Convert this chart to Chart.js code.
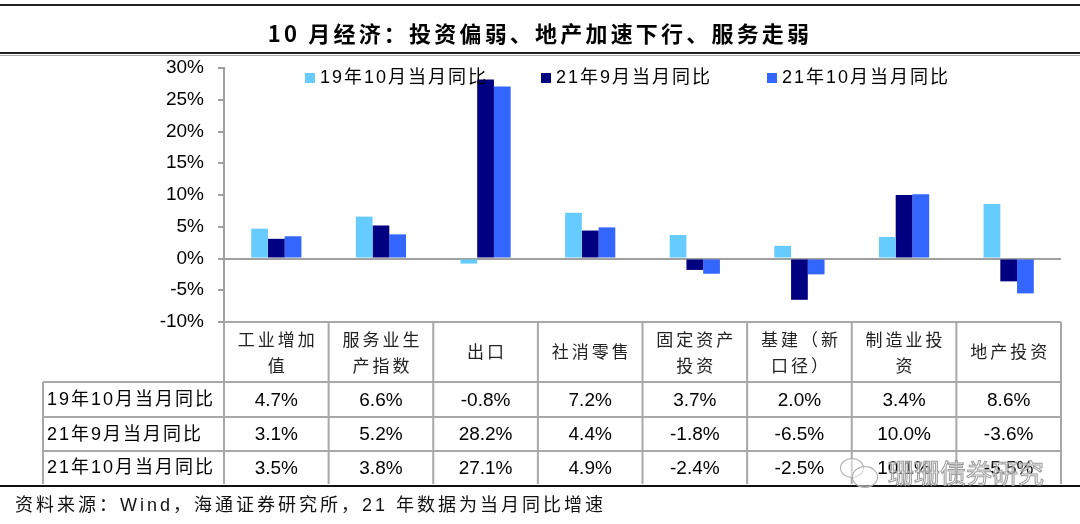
<!DOCTYPE html>
<html>
<head>
<meta charset="utf-8">
<script src="https://cdn.jsdelivr.net/npm/chart.js@4"></script>
<style>
  html,body{margin:0;padding:0;background:#fff;}
  #wrap{position:relative;width:1080px;height:524px;overflow:hidden;background:#fff;}
  #c{position:absolute;left:0;top:0;}
  .rule{position:absolute;left:0;width:1080px;}
  #title{position:absolute;left:0;top:15px;width:1080px;text-align:center;font:bold 22px "Noto Sans CJK SC","Liberation Sans",sans-serif;letter-spacing:3.2px;color:#000;line-height:34px;}
  #foot{position:absolute;left:15px;top:492px;font:18px "Liberation Sans","Noto Sans CJK SC",sans-serif;letter-spacing:3px;color:#111;line-height:26px;white-space:nowrap;}
  #wm{position:absolute;left:888px;top:455px;font:26px "Noto Sans CJK SC",sans-serif;color:rgba(255,255,255,0.55);-webkit-text-stroke:1px #9a9a9a;white-space:nowrap;line-height:34px;}
  .bub{position:absolute;border:1.5px solid #aaa;border-radius:50%;background:rgba(255,255,255,0.5);}
</style>
</head>
<body>
<div id="wrap">
  <canvas id="c" width="1080" height="524"></canvas>
  <div class="rule" style="top:4px;height:2px;background:#222;"></div>
  <div class="rule" style="top:52px;height:2px;background:#222;"></div>
  <div class="rule" style="top:54.5px;height:1px;background:#aaa;"></div>
  <div id="title"></div>
  <div class="rule" style="top:485px;height:2px;background:#111;"></div>
  <div id="foot"></div>
  <div class="bub" style="left:840px;top:458px;width:22px;height:18px;"></div>
  <div class="bub" style="left:852px;top:466px;width:24px;height:20px;"></div>
  <div id="wm"></div>
</div>
<script>
// ---- text ----
const titleText = '10 月经济：投资偏弱、地产加速下行、服务走弱';
const footText = '资料来源：Wind，海通证券研究所，21 年数据为当月同比增速';
const watermarkText = '珊珊债券研究';

// ---- data ----
const categories = [['工业增加','值'],['服务业生','产指数'],['出口'],['社消零售'],['固定资产','投资'],['基建（新','口径）'],['制造业投','资'],['地产投资']];
const seriesNames = ['19年10月当月同比','21年9月当月同比','21年10月当月同比'];
const oct2019 = [4.7, 6.6, -0.8, 7.2, 3.7, 2.0, 3.4, 8.6];
const sep2021 = [3.1, 5.2, 28.2, 4.4, -1.8, -6.5, 10.0, -3.6];
const oct2021 = [3.5, 3.8, 27.1, 4.9, -2.4, -2.5, 10.1, -5.5];
const yMin = -10, yMax = 30, yStep = 5;

const colors = ['#66CCFF', '#000080', '#3366FF'];
const seriesValues = [oct2019, sep2021, oct2021];

document.getElementById('title').textContent = titleText;
document.getElementById('foot').textContent = footText;
document.getElementById('wm').textContent = watermarkText;

const tablePlugin = {
  id: 'tableAndLegend',
  afterDraw(chart) {
    const ctx = chart.ctx;
    const xs = chart.scales.x;
    const area = chart.chartArea;
    const centers = categories.map((_, i) => xs.getPixelForValue(i));
    const bounds = [area.left];
    for (let i = 0; i < centers.length - 1; i++) bounds.push((centers[i] + centers[i + 1]) / 2);
    bounds.push(area.right);

    const y0 = area.bottom;
    const rowsY = [382, 417, 451, 484];
    const tableLeft = 43;

    ctx.save();
    ctx.strokeStyle = '#a8a8a8';
    ctx.lineWidth = 2;
    ctx.beginPath();
    ctx.moveTo(area.left, y0); ctx.lineTo(area.right, y0);
    for (let r = 0; r < 3; r++) { ctx.moveTo(tableLeft, rowsY[r]); ctx.lineTo(area.right, rowsY[r]); }
    bounds.forEach(b => { ctx.moveTo(b, y0); ctx.lineTo(b, rowsY[3]); });
    ctx.moveTo(tableLeft, rowsY[0]); ctx.lineTo(tableLeft, rowsY[3]);
    ctx.stroke();

    // header labels
    ctx.fillStyle = '#222';
    ctx.textAlign = 'center';
    ctx.textBaseline = 'middle';
    ctx.font = '17px "Noto Sans CJK SC", sans-serif';
    ctx.letterSpacing = '3px';
    categories.forEach((lines, i) => {
      const cx = centers[i] + 1.5;
      if (lines.length === 1) {
        ctx.fillText(lines[0], cx, (y0 + rowsY[0]) / 2);
      } else {
        ctx.fillText(lines[0], cx, 340);
        ctx.fillText(lines[1], cx, 366);
      }
    });

    // values
    ctx.fillStyle = '#000';
    ctx.letterSpacing = '0px';
    ctx.font = '19px "Liberation Sans", Arial, sans-serif';
    seriesValues.forEach((vals, r) => {
      const cy = (rowsY[r] + rowsY[r + 1]) / 2 + 1;
      vals.forEach((v, i) => ctx.fillText(v.toFixed(1) + '%', centers[i], cy));
    });

    // row labels
    ctx.textAlign = 'left';
    ctx.font = '18px "Liberation Sans", "Noto Sans CJK SC", sans-serif';
    ctx.letterSpacing = '2px';
    seriesNames.forEach((n, r) => {
      const cy = (rowsY[r] + rowsY[r + 1]) / 2 + 1;
      ctx.fillText(n, tableLeft + 4, cy);
    });

    // legend
    const legX = [305, 541, 767];
    seriesNames.forEach((n, i) => {
      ctx.fillStyle = colors[i];
      ctx.fillRect(legX[i], 73, 10, 10);
      ctx.fillStyle = '#000';
      ctx.fillText(n, legX[i] + 15, 78);
    });
    ctx.restore();
  }
};

new Chart(document.getElementById('c'), {
  type: 'bar',
  data: {
    labels: categories.map(c => c.join('')),
    datasets: seriesNames.map((n, i) => ({
      label: n,
      data: seriesValues[i],
      backgroundColor: colors[i],
      borderWidth: 0,
      categoryPercentage: 0.48,
      barPercentage: 1.0
    }))
  },
  options: {
    responsive: false,
    animation: false,
    devicePixelRatio: 1,
    layout: { padding: { top: 68, right: 19, bottom: 202, left: 0 } },
    plugins: { legend: { display: false }, tooltip: { enabled: false } },
    scales: {
      x: { display: false, offset: true },
      y: {
        min: yMin, max: yMax,
        afterFit(scale) { scale.width = 224; },
        ticks: {
          stepSize: yStep,
          padding: 14,
          color: '#000',
          font: { family: '"Liberation Sans", Arial, sans-serif', size: 19 },
          callback: v => v + '%'
        },
        grid: {
          color: c => (c.tick && c.tick.value === 0) ? '#a0a0a0' : 'rgba(0,0,0,0)',
          lineWidth: 2,
          tickColor: '#a0a0a0',
          tickLength: 6,
          drawTicks: true
        },
        border: { display: true, color: '#a0a0a0', width: 2 }
      }
    }
  },
  plugins: [tablePlugin]
});
</script>
</body>
</html>
